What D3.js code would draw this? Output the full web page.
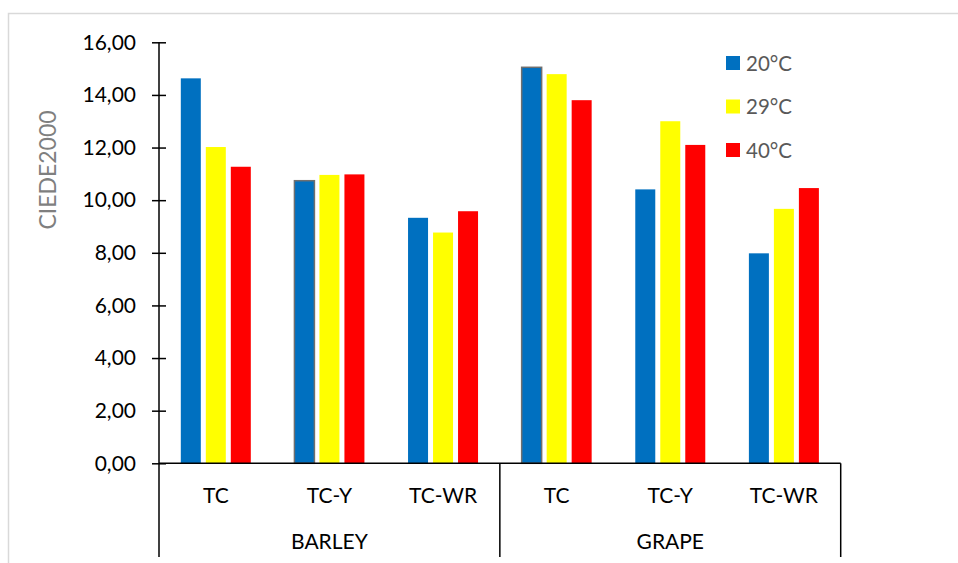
<!DOCTYPE html>
<html><head><meta charset="utf-8">
<script src="https://cdn.jsdelivr.net/npm/d3@7"></script>
<style>body{margin:0;background:#fff}svg{display:block}text{font-family:Lato,"Open Sans",sans-serif}</style>
</head><body><svg id="c" width="958" height="563"></svg>
<script>
const groups = ["BARLEY", "GRAPE"];
const subCategories = ["TC", "TC-Y", "TC-WR"];
const seriesNames = ["20°C", "29°C", "40°C"];
const s20 = [14.63, 10.74, 9.33, 15.05, 10.41, 7.98];
const s29 = [12.02, 10.96, 8.77, 14.79, 13.00, 9.67];
const s40 = [11.27, 10.98, 9.58, 13.80, 12.10, 10.46];
const yTicks = [0, 2, 4, 6, 8, 10, 12, 14, 16];
const yTitle = "CIEDE2000";

(function () {
const colors = ["#0070C0", "#FFFF00", "#FF0000"];
const seriesVals = [s20, s29, s40];
const cats = [];
groups.forEach(g => subCategories.forEach(s => cats.push(g + "|" + s)));

const svg = d3.select("#c");
svg.append("rect").attr("x", 0).attr("y", 0).attr("width", 958).attr("height", 563).attr("fill", "#fff");
svg.append("rect").attr("x", 8.5).attr("y", 13.5).attr("width", 1000).attr("height", 600)
  .attr("fill", "none").attr("stroke", "#d9d9d9").attr("stroke-width", 1.5);

const pL = 159, pR = 840.7, pT = 42.3, pB = 463.3;
const y = d3.scaleLinear().domain([0, 16]).range([pB, pT]);
const x0 = d3.scaleBand().domain(cats).range([pL, pR]).padding(0);
const x1 = d3.scaleBand().domain(seriesNames).range([-35, 35]).paddingInner(0.2).paddingOuter(0);

// bars
const outlined = new Set(["0|1", "0|3"]);
seriesNames.forEach((sn, si) => {
  svg.append("g").selectAll("rect").data(seriesVals[si]).join("rect")
    .attr("x", (d, i) => x0(cats[i]) + x0.bandwidth() / 2 + x1(sn))
    .attr("y", d => y(d))
    .attr("width", x1.bandwidth())
    .attr("height", d => y(0) - y(d))
    .attr("fill", colors[si])
    .attr("stroke", (d, i) => outlined.has(si + "|" + i) ? "#6f6f6f" : "none")
    .attr("stroke-width", 1.5);
});

// y axis
const yAxis = d3.axisLeft(y).tickValues(yTicks).tickSize(7).tickPadding(16)
  .tickFormat(d => d3.format(".2f")(d).replace(".", ","));
const gy = svg.append("g").attr("transform", `translate(${pL},0)`).call(yAxis);
gy.select(".domain").remove();
gy.selectAll(".tick line").attr("x1", 7).attr("stroke", "#000").attr("stroke-width", 1.5);
gy.selectAll(".tick text").attr("font-size", 21).attr("fill", "#000").attr("font-family", "Lato");
svg.append("line").attr("x1", pL).attr("x2", pL).attr("y1", pT).attr("y2", 557)
  .attr("stroke", "#000").attr("stroke-width", 1.5);

// x axis line
svg.append("line").attr("x1", pL).attr("x2", pR).attr("y1", pB).attr("y2", pB)
  .attr("stroke", "#000").attr("stroke-width", 1.5);
// group separators
const gw = x0.bandwidth() * subCategories.length;
groups.forEach((g, gi) => {
  const gx = pL + gw * (gi + 1);
  svg.append("line").attr("x1", gx).attr("x2", gx).attr("y1", pB).attr("y2", 557)
    .attr("stroke", "#000").attr("stroke-width", 1.5);
  svg.append("text").attr("x", pL + gw * gi + gw / 2).attr("y", 549)
    .attr("text-anchor", "middle").attr("font-size", 21).attr("fill", "#000").text(g);
});
// category labels
svg.append("g").selectAll("text").data(cats).join("text")
  .attr("x", d => x0(d) + x0.bandwidth() / 2).attr("y", 502.5)
  .attr("text-anchor", "middle").attr("font-size", 21).attr("fill", "#000")
  .text(d => d.split("|")[1]);

// y title
svg.append("text").attr("transform", "translate(56,170) rotate(-90)")
  .attr("text-anchor", "middle").attr("font-size", 23).attr("fill", "#7f7f7f").text(yTitle);

// legend
const lg = svg.append("g");
seriesNames.forEach((sn, i) => {
  const cy = 63 + i * 43.5;
  lg.append("rect").attr("x", 726).attr("y", cy - 7).attr("width", 14).attr("height", 14).attr("fill", colors[i]);
  lg.append("text").attr("x", 746).attr("y", cy + 7.5).attr("font-size", 20.5).attr("fill", "#595959").text(sn);
});
})();
</script></body></html>
